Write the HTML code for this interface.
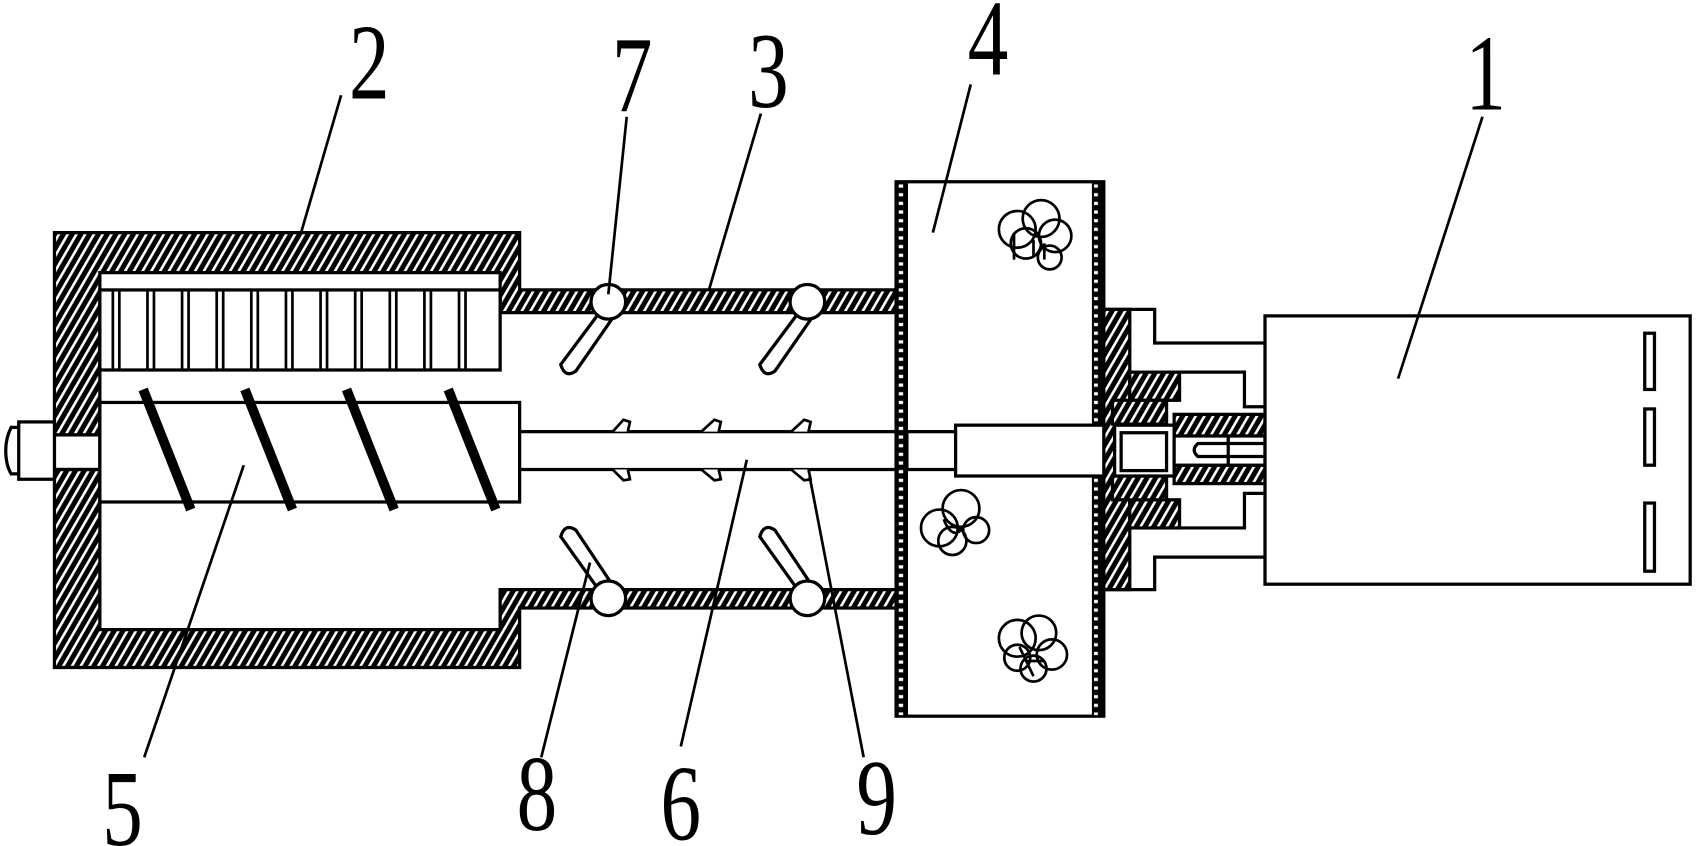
<!DOCTYPE html>
<html><head><meta charset="utf-8"><style>html,body{margin:0;padding:0;background:#fff}svg{display:block}</style></head>
<body>
<svg width="1697" height="846" viewBox="0 0 1568 782" xmlns="http://www.w3.org/2000/svg">
<defs>
<pattern id="h" width="7" height="7" patternUnits="userSpaceOnUse" patternTransform="rotate(30)">
<rect width="7" height="7" fill="#000"/><rect x="0" width="2.4" height="7" fill="#fff"/>
</pattern>
<pattern id="dv" width="9" height="8" patternUnits="userSpaceOnUse">
<rect width="9" height="8" fill="#000"/><rect x="2.5" y="2.5" width="4" height="3" fill="#fff"/>
</pattern>
</defs>
<g stroke="#000" stroke-width="3" fill="none">
<path d="M50 215 H480 V268 H828 V289 H462 V252 H92 V582 H462 V545 H828 V562 H480 V617 H50 Z" fill="url(#h)"/>
<rect x="50" y="402" width="42" height="32" fill="#fff"/>
<rect x="92" y="268" width="370" height="74" fill="#fff"/>
<g stroke-width="2.5">
<path d="M104 268V342M110 268V342M136 268V342M142 268V342M168 268V342M174 268V342M200 268V342M206 268V342M232 268V342M238 268V342M264 268V342M270 268V342M296 268V342M302 268V342M328 268V342M334 268V342M360 268V342M366 268V342M392 268V342M398 268V342M424 268V342M430 268V342"/>
</g>
<rect x="17" y="390" width="33" height="53" fill="#fff"/>
<path d="M17 395 H10 Q5 405 5 416 Q5 430 10 438 H17" />
<line x1="50" y1="402" x2="92" y2="402"/><line x1="50" y1="434" x2="92" y2="434"/>
<rect x="92" y="372" width="388" height="92" fill="#fff"/>
<g stroke-width="9">
<line x1="132" y1="360" x2="176" y2="471"/>
<line x1="226" y1="360" x2="270" y2="471"/>
<line x1="320" y1="360" x2="364" y2="471"/>
<line x1="414" y1="360" x2="458" y2="471"/>
</g>
<rect x="480" y="399" width="410" height="35" fill="#fff"/>
<g stroke-width="2.5" fill="#fff">
<path d="M566 399 L576 388 L582 390 L580 399"/><path d="M566 434 L576 444 L582 443 L580 434"/>
<path d="M648 399 L660 388 L666 390 L664 399"/><path d="M648 434 L660 444 L666 443 L664 434"/>
<path d="M731 399 L743 388 L749 390 L747 399"/><path d="M731 434 L743 444 L749 443 L747 434"/>
</g>
<g fill="#fff" stroke-width="3">
<path d="M553 290 L518 337 Q522 350 532 343 L566 294 Z"/>
<path d="M737 290 L702 337 Q706 350 716 343 L750 294 Z"/>
<path d="M553 545 L518 496 Q522 483 532 490 L566 541 Z"/>
<path d="M737 545 L702 496 Q706 483 716 490 L750 541 Z"/>
<circle cx="562" cy="279" r="16"/><circle cx="746" cy="279" r="16"/>
<circle cx="562" cy="553" r="16"/><circle cx="746" cy="553" r="16"/>
</g>
<rect x="828" y="168" width="192" height="494" fill="#fff"/>
<rect x="829" y="169" width="9" height="492" fill="url(#dv)" stroke="none"/>
<rect x="1010" y="169" width="9" height="492" fill="url(#dv)" stroke="none"/>
<line x1="838" y1="168" x2="838" y2="662" stroke-width="2"/><line x1="1010" y1="168" x2="1010" y2="662" stroke-width="2"/>
<rect x="838" y="399" width="172" height="35" fill="#fff"/>
<rect x="883" y="393" width="147" height="47" fill="#fff"/>
<g stroke-width="2.5">
<circle cx="940" cy="212" r="17"/><circle cx="962" cy="202" r="17"/><circle cx="975" cy="218" r="15"/><circle cx="970" cy="238" r="11"/><circle cx="948" cy="225" r="14"/>
<path d="M937 215 V240 M955 222 V238 M965 225 V240"/>
<circle cx="868" cy="488" r="17"/><circle cx="888" cy="470" r="17"/><circle cx="902" cy="490" r="12"/><circle cx="880" cy="500" r="13"/>
<path d="M872 480 Q880 500 890 488"/>
<circle cx="940" cy="590" r="17"/><circle cx="960" cy="585" r="16"/><circle cx="972" cy="605" r="14"/><circle cx="955" cy="618" r="12"/><circle cx="940" cy="608" r="12"/>
<path d="M942 598 L955 625 M948 611 H965"/>
</g>
<path d="M1020 286 H1067 V317 H1169 M1020 545 H1067 V515 H1169"/>
<rect x="1020" y="286" width="24" height="259" fill="url(#h)"/>
<rect x="1044" y="344" width="46" height="26" fill="url(#h)"/>
<rect x="1044" y="462" width="46" height="26" fill="url(#h)"/>
<path d="M1090 344 H1150 V376 H1169 M1090 488 H1150 V456 H1169"/>
<rect x="1028" y="370" width="50" height="22" fill="url(#h)"/>
<rect x="1028" y="440" width="50" height="22" fill="url(#h)"/>
<rect x="1085" y="383" width="84" height="20" fill="url(#h)"/>
<rect x="1085" y="430" width="84" height="17" fill="url(#h)"/>
<rect x="1030" y="393" width="55" height="47" fill="#fff"/>
<rect x="1036" y="400" width="42" height="35" fill="#fff"/>
<rect x="1085" y="403" width="84" height="27" fill="#fff"/>
<path d="M1135 403 V430 M1169 410 H1107 Q1100 416 1107 422 H1169"/>
<rect x="1169" y="292" width="393" height="248" fill="#fff"/>
<rect x="1520" y="308" width="9" height="52"/><rect x="1520" y="378" width="9" height="52"/><rect x="1520" y="465" width="9" height="63"/>
<g stroke-width="2.5">
<line x1="315" y1="88" x2="278" y2="215"/>
<line x1="579" y1="108" x2="562" y2="272"/>
<line x1="703" y1="105" x2="655" y2="268"/>
<line x1="897" y1="78" x2="862" y2="215"/>
<line x1="1370" y1="108" x2="1292" y2="350"/>
<line x1="133" y1="700" x2="225" y2="430"/>
<line x1="500" y1="700" x2="545" y2="520"/>
<line x1="629" y1="690" x2="690" y2="425"/>
<line x1="798" y1="700" x2="748" y2="440"/>
</g>
</g>
<g font-family="Liberation Serif, serif" font-size="100" text-anchor="middle" fill="#000">
<text transform="translate(341 91) scale(0.75 1)">2</text>
<text transform="translate(584 103) scale(0.75 1)">7</text>
<text transform="translate(710 99) scale(0.75 1)">3</text>
<text transform="translate(913 69) scale(0.75 1)">4</text>
<text transform="translate(1373 101) scale(0.75 1)">1</text>
<text transform="translate(113 781) scale(0.75 1)">5</text>
<text transform="translate(496 767) scale(0.75 1)">8</text>
<text transform="translate(629 776) scale(0.75 1)">6</text>
<text transform="translate(810 771) scale(0.75 1)">9</text>
</g>
</svg>
</body></html>
